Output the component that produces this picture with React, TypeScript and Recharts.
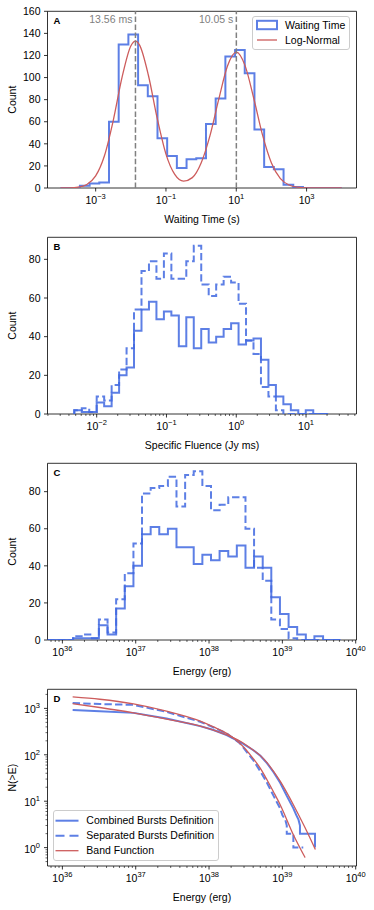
import React from 'react';
import { LineChart, Line, XAxis, YAxis, ReferenceLine, ReferenceArea, Legend } from 'recharts';

// Panel A: waiting time histogram, bin edges as log10(seconds)
const waitEdgeExp = [
  -4.0, -3.724, -3.448, -3.172, -2.897, -2.621, -2.345, -2.069, -1.793, -1.517,
  -1.241, -0.966, -0.69, -0.414, -0.138, 0.138, 0.414, 0.69, 0.966, 1.241,
  1.517, 1.793, 2.069, 2.345, 2.621, 2.897, 3.172, 3.448, 3.724, 4.0,
];
const waitCounts = [0, 0, 2, 4, 5, 60, 130, 139, 93, 83, 45, 29, 18, 26, 27, 58, 81, 119, 125, 104, 53, 19, 17, 3, 1, 0, 0, 0, 0];
const waitFitExp = [
  -4, -3.75, -3.5, -3.25, -3, -2.75, -2.5, -2.25, -2, -1.868, -1.75, -1.5, -1.25, -1, -0.75, -0.5, -0.25,
  0, 0.25, 0.5, 0.75, 1.0, 1.25, 1.5, 1.75, 2, 2.25, 2.5, 2.75, 3, 3.25, 3.5, 3.75, 4,
];
const waitFitCount = [
  0.02, 0.13, 0.7, 3.2, 10.9, 29.2, 61.1, 100.1, 128.6, 133, 129.4, 102.1, 63.2, 30.7, 12.3, 6.2, 9.4,
  22.6, 47.2, 80.2, 110.5, 123, 110.8, 80.8, 47.6, 22.7, 8.8, 2.7, 0.7, 0.14, 0.02, 0, 0, 0,
];
const waitPeaks = [0.01356, 10.05];
const waitPeakLabels = ['13.56 ms', '10.05 s'];
const waitTickExp = [-3, -1, 1, 3];
const countTicksA = [0, 20, 40, 60, 80, 100, 120, 140, 160];

// Panel B: specific fluence (Jy ms)
const fluenceEdgeExp = [
  -2.321, -2.214, -2.107, -2.0, -1.893, -1.786, -1.679, -1.572, -1.465, -1.358, -1.251, -1.144,
  -1.037, -0.93, -0.823, -0.716, -0.609, -0.502, -0.395, -0.288, -0.181, -0.074, 0.033, 0.14,
  0.247, 0.354, 0.461, 0.568, 0.675, 0.782, 0.889, 0.996, 1.103, 1.21, 1.317,
];
const fluenceCombined = [2, 1, 1, 6, 4, 11, 20, 24, 43, 54, 58, 49, 53, 51, 35, 50, 34, 44, 37, 40, 44, 47, 36, 38, 39, 28, 15, 9, 5, 2, 0, 2, 0, 0];
const fluenceSeparated = [2, 3, 1, 9, 7, 15, 23, 34, 54, 74, 79, 70, 83, 70, 70, 79, 87, 67, 61, 67, 71, 68, 57, 38, 31, 14, 9, 2, 0, 0, 0, 0, 0, 0];

// Panel C: energy (erg)
const energyEdgeExp = [
  35.793, 35.911, 36.028, 36.146, 36.263, 36.381, 36.498, 36.616, 36.733, 36.851, 36.969, 37.086,
  37.204, 37.321, 37.439, 37.556, 37.674, 37.791, 37.909, 38.027, 38.144, 38.262, 38.379, 38.497,
  38.614, 38.732, 38.849, 38.967, 39.085, 39.202, 39.32, 39.437, 39.555, 39.672, 39.79,
];
const energyCombined = [0, 0, 0, 1, 1, 1, 8, 3, 17, 29, 40, 57, 61, 57, 60, 50, 50, 41, 46, 43, 48, 45, 51, 39, 45, 39, 23, 14, 7, 3, 0, 2, 0, 0];
const energySeparated = [0, 0, 0, 2, 3, 1, 11, 4, 22, 36, 52, 79, 82, 83, 88, 72, 89, 91, 83, 70, 73, 77, 77, 60, 39, 32, 11, 6, 1, 0, 0, 0, 0, 0];
const countTicksBC = [0, 20, 40, 60, 80];

// Panel D: cumulative N(>E)
const cumCombinedExp = [36.14, 36.51, 36.97, 37.42, 37.88, 38.06, 38.24, 38.42, 38.6, 38.7, 38.79, 38.88, 38.97, 39.06, 39.15, 39.19, 39.22, 39.24, 39.24, 39.445, 39.445];
const cumCombinedN = [920, 871, 800, 607, 415, 341, 267, 191, 127, 95, 66, 42, 25, 13, 7, 5, 4, 3, 2, 2, 1];
const cumSeparatedExp = [36.14, 36.51, 36.97, 37.42, 37.88, 38.06, 38.24, 38.42, 38.6, 38.7, 38.79, 38.88, 38.97, 39.0, 39.04, 39.06, 39.06, 39.15, 39.15, 39.285];
const cumSeparatedN = [1300, 1240, 1190, 841, 514, 390, 290, 177, 78, 44, 25, 13, 7, 5, 4, 3, 2, 2, 1, 1];
const bandSeparatedExp = [36.14, 36.51, 36.97, 37.42, 37.88, 38.06, 38.24, 38.42, 38.6, 38.7, 38.79, 38.88, 38.97, 39.15, 39.31];
const bandSeparatedN = [1762, 1574, 1250, 871, 532, 400, 290, 177, 84, 51, 29, 15.8, 8.4, 1.9, 0.61];
const bandCombinedExp = [36.14, 36.51, 36.97, 37.42, 37.88, 38.06, 38.24, 38.42, 38.6, 38.7, 38.79, 38.88, 38.97, 39.15, 39.31, 39.45];
const bandCombinedN = [1260, 1045, 800, 587, 415, 341, 267, 198, 127, 96, 68, 44, 27, 8.4, 2.67, 0.91];

const FONT = '"Liberation Sans", Arial, sans-serif';
const BLUE = '#4169E1';
const RED = '#CD5C5C';
const W = 374;
const H = 226;
const MARGIN = { top: 11.3, right: 17.5, bottom: 8, left: 0 };
const FS = 10.5;

const pow10 = (e: number) => Math.pow(10, e);
const toPoints = (exps: number[], vals: number[]) => exps.map((e, i) => ({ x: pow10(e), y: vals[i] }));

// matplotlib style step outline
function histSteps(edgeExp: number[], counts: number[]) {
  const pts = [{ x: pow10(edgeExp[0]), y: 0 }];
  counts.forEach((c, i) => {
    pts.push({ x: pow10(edgeExp[i]), y: c });
    pts.push({ x: pow10(edgeExp[i + 1]), y: c });
  });
  pts.push({ x: pow10(edgeExp[edgeExp.length - 1]), y: 0 });
  return pts;
}

// major exponents plus 2..9 minor ticks inside [lo, hi]
function logTicks(lo: number, hi: number) {
  const out: number[] = [];
  for (let d = Math.floor(lo); d <= Math.ceil(hi); d++) {
    for (let m = 1; m <= 9; m++) {
      const e = Math.log10(m) + d;
      if (e >= lo - 1e-9 && e <= hi + 1e-9) out.push(m * pow10(d));
    }
  }
  return out;
}

const supText = (p: number) => (p < 0 ? '\u2212' + -p : String(p));

function LogXTick(props: any) {
  const { x, y, payload } = props;
  const e = Math.log10(payload.value);
  const major = Math.abs(e - Math.round(e)) < 1e-6;
  return (
    <g>
      <line x1={x} x2={x} y1={y} y2={y + (major ? 3.5 : 2)} stroke="#000" strokeWidth={major ? 0.8 : 0.6} />
      {major && (
        <text x={x} y={y + 16.3} textAnchor="middle" fontSize={FS} fill="#000">
          10<tspan dy={-5} fontSize={7.5}>{supText(Math.round(e))}</tspan>
        </text>
      )}
    </g>
  );
}

function LogYTick(props: any) {
  const { x, y, payload } = props;
  const e = Math.log10(payload.value);
  const major = Math.abs(e - Math.round(e)) < 1e-6;
  return (
    <g>
      <line x1={x} x2={x - (major ? 3.5 : 2)} y1={y} y2={y} stroke="#000" strokeWidth={major ? 0.8 : 0.6} />
      {major && (
        <text x={x - 7.5} y={y + 5} textAnchor="end" fontSize={FS} fill="#000">
          10<tspan dy={-5} fontSize={7.5}>{supText(Math.round(e))}</tspan>
        </text>
      )}
    </g>
  );
}

function XTitle(props: any) {
  const vb = props.viewBox || { x: 47.5, y: 188, width: 309, height: 30 };
  return (
    <text x={vb.x + vb.width / 2} y={vb.y + 35} textAnchor="middle" fontSize={FS} fill="#000">
      {props.text}
    </text>
  );
}

function YTitle(props: any) {
  const vb = props.viewBox || { x: 0, y: 11.3, width: 47.5, height: 176.7 };
  const cy = vb.y + vb.height / 2;
  return (
    <text x={12.5} y={cy} transform={`rotate(-90, 12.5, ${cy})`} textAnchor="middle" dominantBaseline="central" fontSize={FS} fill="#000">
      {props.text}
    </text>
  );
}

function PanelTag(props: any) {
  const vb = props.viewBox || { x: 47.5, y: 11.3 };
  return (
    <text x={vb.x + 6} y={vb.y + 12.7} fontSize={9.5} fontWeight="bold" fill="#000">
      {props.text}
    </text>
  );
}

function PeakLabel(props: any) {
  const vb = props.viewBox || { x: 0, y: 11.3 };
  return (
    <text x={vb.x - 3} y={vb.y + 11.2} textAnchor="end" fontSize={FS} fill="#808080">
      {props.text}
    </text>
  );
}

function WaitLegend() {
  return (
    <svg width={98} height={34} style={{ display: 'block' }}>
      <rect x={0.5} y={0.5} width={97} height={33} rx={2.5} fill="#fff" fillOpacity={0.8} stroke="#cccccc" />
      <rect x={5} y={4.8} width={20} height={8.4} fill="none" stroke={BLUE} strokeOpacity={0.85} strokeWidth={2} />
      <text x={33} y={12.7} fontSize={FS} fill="#000">Waiting Time</text>
      <line x1={5} x2={25} y1={24} y2={24} stroke={RED} strokeWidth={1.3} />
      <text x={33} y={27.7} fontSize={FS} fill="#000">Log-Normal</text>
    </svg>
  );
}

function CumLegend() {
  return (
    <svg width={166} height={51} style={{ display: 'block' }}>
      <rect x={0.5} y={0.5} width={165} height={50} rx={2.5} fill="#fff" fillOpacity={0.8} stroke="#cccccc" />
      <line x1={2.5} x2={25.5} y1={10.7} y2={10.7} stroke={BLUE} strokeOpacity={0.85} strokeWidth={2} />
      <text x={33.3} y={14.4} fontSize={FS} fill="#000">Combined Bursts Definition</text>
      <line x1={2.5} x2={25.5} y1={25.7} y2={25.7} stroke={BLUE} strokeOpacity={0.85} strokeWidth={2} strokeDasharray="9 5" />
      <text x={33.3} y={29.4} fontSize={FS} fill="#000">Separated Bursts Definition</text>
      <line x1={2.5} x2={25.5} y1={40.7} y2={40.7} stroke={RED} strokeWidth={1.3} />
      <text x={33.3} y={44.4} fontSize={FS} fill="#000">Band Function</text>
    </svg>
  );
}

const linearY = {
  type: 'number' as const,
  allowDataOverflow: true,
  interval: 0 as const,
  width: 47.5,
  axisLine: false,
  tickSize: 3.5,
  tickMargin: 3.5,
  tick: { fontSize: FS, fill: '#000' },
  tickLine: { stroke: '#000', strokeWidth: 0.8 },
};

const logX = {
  dataKey: 'x',
  type: 'number' as const,
  scale: 'log' as const,
  allowDataOverflow: true,
  interval: 0 as const,
  tick: <LogXTick />,
  tickLine: false,
  tickSize: 0,
  tickMargin: 0,
  axisLine: false,
  height: 30,
};

function PanelA() {
  const xLo = pow10(-4.37);
  const xHi = pow10(4.42);
  return (
    <LineChart width={W} height={H} margin={MARGIN}>
      <XAxis {...logX} domain={[xLo, xHi]} ticks={waitTickExp.map(pow10)} label={<XTitle text="Waiting Time (s)" />} />
      <YAxis {...linearY} domain={[0, 160]} ticks={countTicksA} label={<YTitle text="Count" />} />
      <ReferenceArea x1={xLo} x2={xHi} y1={0} y2={160} fill="none" stroke="#000" strokeWidth={0.8} ifOverflow="visible" label={<PanelTag text="A" />} />
      <Line data={histSteps(waitEdgeExp, waitCounts)} dataKey="y" type="linear" stroke={BLUE} strokeOpacity={0.85} strokeWidth={2} dot={false} isAnimationActive={false} />
      <Line data={toPoints(waitFitExp, waitFitCount)} dataKey="y" type="monotone" stroke={RED} strokeWidth={1.3} dot={false} isAnimationActive={false} />
      {waitPeaks.map((p, i) => (
        <ReferenceLine key={p} x={p} stroke="#808080" strokeDasharray="5.5 2.4" strokeWidth={1.5} label={<PeakLabel text={waitPeakLabels[i]} />} />
      ))}
      <Legend layout="horizontal" verticalAlign="middle" align="center" wrapperStyle={{ left: 252, top: 16, width: 98, height: 34 }} content={() => <WaitLegend />} />
    </LineChart>
  );
}

function PanelB() {
  const lo = -2.705;
  const hi = 1.723;
  return (
    <LineChart width={W} height={H} margin={MARGIN}>
      <XAxis {...logX} domain={[pow10(lo), pow10(hi)]} ticks={logTicks(lo, hi)} label={<XTitle text="Specific Fluence (Jy ms)" />} />
      <YAxis {...linearY} domain={[0, 91.4]} ticks={countTicksBC} label={<YTitle text="Count" />} />
      <ReferenceArea x1={pow10(lo)} x2={pow10(hi)} y1={0} y2={91.4} fill="none" stroke="#000" strokeWidth={0.8} ifOverflow="visible" label={<PanelTag text="B" />} />
      <Line data={histSteps(fluenceEdgeExp, fluenceCombined)} dataKey="y" type="linear" stroke={BLUE} strokeOpacity={0.85} strokeWidth={2} dot={false} isAnimationActive={false} />
      <Line data={histSteps(fluenceEdgeExp, fluenceSeparated)} dataKey="y" type="linear" stroke={BLUE} strokeOpacity={0.85} strokeWidth={2} strokeDasharray="7.4 3.2" dot={false} isAnimationActive={false} />
    </LineChart>
  );
}

function PanelC() {
  const lo = 35.797;
  const hi = 40.011;
  return (
    <LineChart width={W} height={H} margin={MARGIN}>
      <XAxis {...logX} domain={[pow10(lo), pow10(hi)]} ticks={logTicks(lo, hi)} label={<XTitle text="Energy (erg)" />} />
      <YAxis {...linearY} domain={[0, 95.3]} ticks={countTicksBC} label={<YTitle text="Count" />} />
      <ReferenceArea x1={pow10(lo)} x2={pow10(hi)} y1={0} y2={95.3} fill="none" stroke="#000" strokeWidth={0.8} ifOverflow="visible" label={<PanelTag text="C" />} />
      <Line data={histSteps(energyEdgeExp, energyCombined)} dataKey="y" type="linear" stroke={BLUE} strokeOpacity={0.85} strokeWidth={2} dot={false} isAnimationActive={false} />
      <Line data={histSteps(energyEdgeExp, energySeparated)} dataKey="y" type="linear" stroke={BLUE} strokeOpacity={0.85} strokeWidth={2} strokeDasharray="7.4 3.2" dot={false} isAnimationActive={false} />
    </LineChart>
  );
}

function PanelD() {
  const lo = 35.797;
  const hi = 40.011;
  const yLo = -0.396;
  const yHi = 3.411;
  return (
    <LineChart width={W} height={H} margin={MARGIN}>
      <XAxis {...logX} domain={[pow10(lo), pow10(hi)]} ticks={logTicks(lo, hi)} label={<XTitle text="Energy (erg)" />} />
      <YAxis
        type="number"
        scale="log"
        domain={[pow10(yLo), pow10(yHi)]}
        allowDataOverflow
        ticks={logTicks(yLo, yHi)}
        interval={0}
        width={47.5}
        axisLine={false}
        tickLine={false}
        tickSize={0}
        tickMargin={0}
        tick={<LogYTick />}
        label={<YTitle text="N(>E)" />}
      />
      <ReferenceArea x1={pow10(lo)} x2={pow10(hi)} y1={pow10(yLo)} y2={pow10(yHi)} fill="none" stroke="#000" strokeWidth={0.8} ifOverflow="visible" label={<PanelTag text="D" />} />
      <Line data={toPoints(cumCombinedExp, cumCombinedN)} dataKey="y" type="linear" stroke={BLUE} strokeOpacity={0.85} strokeWidth={2} dot={false} isAnimationActive={false} />
      <Line data={toPoints(cumSeparatedExp, cumSeparatedN)} dataKey="y" type="linear" stroke={BLUE} strokeOpacity={0.85} strokeWidth={2} strokeDasharray="7.4 3.2" dot={false} isAnimationActive={false} />
      <Line data={toPoints(bandCombinedExp, bandCombinedN)} dataKey="y" type="monotone" stroke={RED} strokeWidth={1.3} dot={false} isAnimationActive={false} />
      <Line data={toPoints(bandSeparatedExp, bandSeparatedN)} dataKey="y" type="monotone" stroke={RED} strokeWidth={1.3} dot={false} isAnimationActive={false} />
      <Legend layout="horizontal" verticalAlign="middle" align="center" wrapperStyle={{ left: 52.7, top: 132, width: 166, height: 51 }} content={() => <CumLegend />} />
    </LineChart>
  );
}

export default function App() {
  return (
    <div style={{ position: 'absolute', left: 0, top: 0, width: 374, height: 910, background: '#fff', fontFamily: FONT }}>
      <PanelA />
      <PanelB />
      <PanelC />
      <PanelD />
    </div>
  );
}
